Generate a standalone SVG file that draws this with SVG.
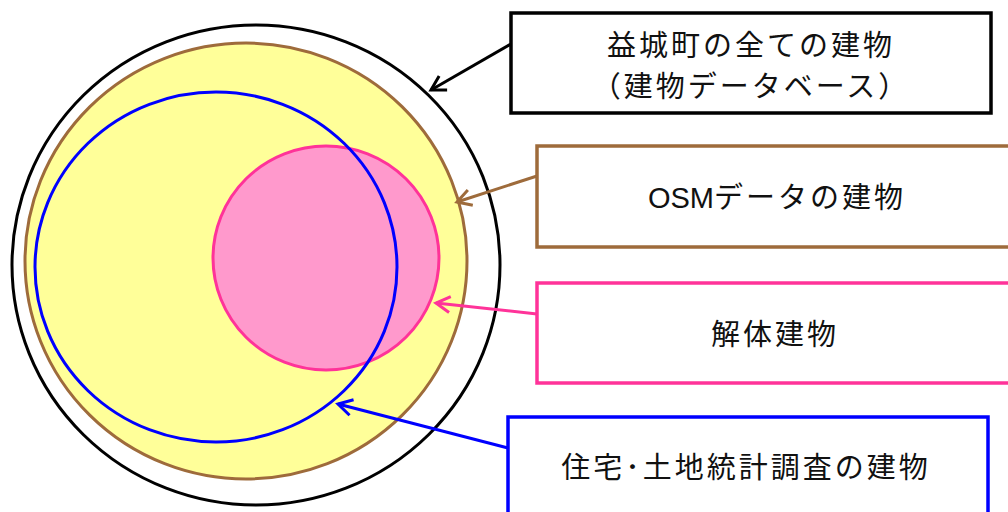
<svg xmlns="http://www.w3.org/2000/svg" width="1008" height="512" viewBox="0 0 1008 512">
<style>
.lbl{font-family:"Noto Sans CJK JP","Noto Sans",sans-serif;font-size:29px;fill:#111;text-anchor:middle;letter-spacing:3px}
.lat{font-family:"Liberation Sans","Noto Sans CJK JP",sans-serif;letter-spacing:0}
.box{fill:#fff;stroke-width:3.5}
.conn{fill:none;stroke-width:3}
</style>
<defs>
<marker id="mk-black" markerUnits="userSpaceOnUse" markerWidth="30" markerHeight="30" viewBox="-20 -15 30 30" refX="0" refY="0" orient="auto"><path d="M-14,-8 L0,0 L-14,8" fill="none" stroke="#000" stroke-width="3"/></marker>
<marker id="mk-brown" markerUnits="userSpaceOnUse" markerWidth="30" markerHeight="30" viewBox="-20 -15 30 30" refX="0" refY="0" orient="auto"><path d="M-14,-8 L0,0 L-14,8" fill="none" stroke="#9E6B3B" stroke-width="3"/></marker>
<marker id="mk-pink" markerUnits="userSpaceOnUse" markerWidth="30" markerHeight="30" viewBox="-20 -15 30 30" refX="0" refY="0" orient="auto"><path d="M-14,-8 L0,0 L-14,8" fill="none" stroke="#FF3399" stroke-width="3"/></marker>
<marker id="mk-blue" markerUnits="userSpaceOnUse" markerWidth="30" markerHeight="30" viewBox="-20 -15 30 30" refX="0" refY="0" orient="auto"><path d="M-14,-8 L0,0 L-14,8" fill="none" stroke="#0000FF" stroke-width="3"/></marker>
</defs>
<g id="all-buildings-circle"><ellipse cx="256" cy="265" rx="244" ry="240" fill="#fff" stroke="#000" stroke-width="3"/></g>
<g id="osm-circle"><ellipse cx="246" cy="261" rx="221" ry="218" fill="#FFFF99" stroke="#9E6B3B" stroke-width="3"/></g>
<g id="demolished-circle"><ellipse cx="326" cy="258" rx="113" ry="112" fill="#FF99CC" stroke="#FF3399" stroke-width="3"/></g>
<g id="survey-circle"><ellipse cx="216" cy="267" rx="181" ry="175" fill="none" stroke="#0000FF" stroke-width="3"/></g>
<g id="connectors">
<line class="conn" x1="511" y1="44" x2="431" y2="90" stroke="#000" marker-end="url(#mk-black)"/>
<line class="conn" x1="537" y1="176" x2="457" y2="202" stroke="#9E6B3B" marker-end="url(#mk-brown)"/>
<line class="conn" x1="537" y1="314" x2="436" y2="303" stroke="#FF3399" marker-end="url(#mk-pink)"/>
<line class="conn" x1="508" y1="448" x2="338" y2="404" stroke="#0000FF" marker-end="url(#mk-blue)"/>
</g>
<g id="box-all"><rect class="box" x="511" y="13" width="480" height="100" stroke="#000"/>
<text class="lbl" x="751" y="56">益城町の全ての建物</text>
<text class="lbl" x="751" y="97">（建物データベース）</text></g>
<g id="box-osm"><rect class="box" x="537" y="146" width="480" height="101" stroke="#9E6B3B"/>
<text class="lbl" x="777" y="208"><tspan class="lat">OSM</tspan>データの建物</text></g>
<g id="box-demolished"><rect class="box" x="537" y="283" width="480" height="100" stroke="#FF3399"/>
<text class="lbl" x="775" y="345">解体建物</text></g>
<g id="box-survey"><rect class="box" x="508" y="417" width="480" height="120" stroke="#0000FF"/>
<text class="lbl" x="746" y="478">住宅･土地統計調査の建物</text></g>
</svg>
